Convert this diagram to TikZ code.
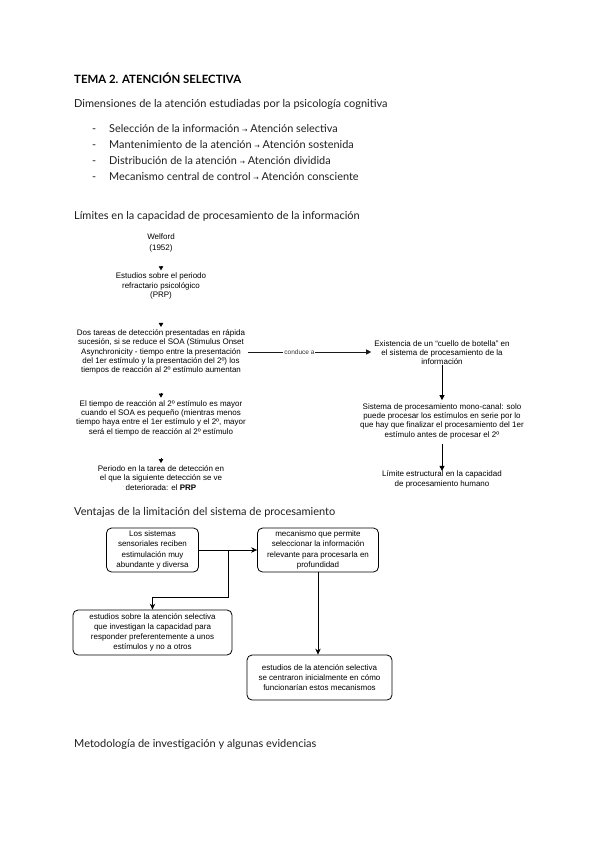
\documentclass[tikz,border=0pt]{standalone}
\usepackage{fontspec}
\setmainfont{Lato}
\newfontfamily\diag{Liberation Sans}
\newfontfamily\symfont{DejaVu Sans}
\usetikzlibrary{arrows.meta,calc}
\definecolor{txt}{gray}{0.12}
\definecolor{lin}{gray}{0.1}
\tikzset{
  head/.style={anchor=base west,inner sep=0pt,text=txt,font=\fontsize{11}{13}\selectfont},
  bul/.style={anchor=base west,inner sep=0pt,text=txt,font=\fontsize{10.9}{13}\selectfont},
  ftxt/.style={align=center,inner sep=0pt,text=black,font=\diag\fontsize{8}{9.3}\selectfont},
  smallarr/.style={draw=black,line width=0.5pt,-{Triangle[width=4.5pt,length=4pt]}},
  longarr/.style={draw=black,line width=0.9pt,-{Triangle[width=5pt,length=5pt]}},
  box/.style={draw=black,line width=0.8pt,rounded corners=5pt,align=center,inner sep=1pt,
    font=\diag\fontsize{8}{10.2}\selectfont},
  barr/.style={draw=black,line width=0.8pt,-{Stealth[width=5.5pt,length=6pt]}},
  bline/.style={draw=black,line width=0.8pt}
}
\newcommand{\rarr}{{\symfont\fontsize{6.5}{8}\selectfont →}}
\begin{document}
\begin{tikzpicture}[x=1pt,y=-1pt]
\useasboundingbox (0,0) rectangle (599,848);
\fill[white] (0,0) rectangle (599,848);

% headings
\node[anchor=base west,inner sep=0pt,text=black,font=\bfseries\fontsize{11.4}{14}\selectfont] (title) at (74,84) {TEMA 2. ATENCIÓN SELECTIVA};
\node[head] (dims) at (74,108) {Dimensiones de la atención estudiadas por la psicología cognitiva};
\node[bul] (d1) at (92,132) {-};
\node[bul] (d2) at (92,148) {-};
\node[bul] (d3) at (92,164) {-};
\node[bul] (d4) at (92,180) {-};
\node[bul] (b1) at (109,132) {Selección de la información \rarr{} Atención selectiva};
\node[bul] (b2) at (109,148) {Mantenimiento de la atención \rarr{} Atención sostenida};
\node[bul] (b3) at (109,164) {Distribución de la atención \rarr{} Atención dividida};
\node[bul] (b4) at (109,180) {Mecanismo central de control \rarr{} Atención consciente};
\node[head] (lim) at (74,219) {Límites en la capacidad de procesamiento de la información};

% flow left column
\node[ftxt,font=\diag\fontsize{8}{10.5}\selectfont] (welford) at (161,243) {Welford\\(1952)};
\node[ftxt] (estudios) at (161,286) {Estudios sobre el periodo\\refractario psicológico\\(PRP)};
\node[ftxt] (dos) at (161,352) {Dos tareas de detección presentadas en rápida\\sucesión, si se reduce el SOA (Stimulus Onset\\Asynchronicity - tiempo entre la presentación\\del 1er estímulo y la presentación del 2º) los\\tiempos de reacción al 2º estímulo aumentan};
\node[ftxt] (tiempo) at (161,418) {El tiempo de reacción al 2º estímulo es mayor\\cuando el SOA es pequeño (mientras menos\\tiempo haya entre el 1er estímulo y el 2º, mayor\\será el tiempo de reacción al 2º estímulo};
\node[ftxt] (periodo) at (161,478) {Periodo en la tarea de detección en\\el que la siguiente detección se ve\\deteriorada: el \textbf{PRP}};

\draw[smallarr,shorten <=15pt,shorten >=2.5pt] (welford.south) -- (estudios.north);
\draw[smallarr,shorten <=24pt,shorten >=2.5pt] (estudios.south) -- (dos.north);
\draw[smallarr,shorten <=18pt,shorten >=2.5pt] (dos.south) -- (tiempo.north);
\draw[smallarr,shorten <=22pt,shorten >=2.5pt] (tiempo.south) -- (periodo.north);

% right column
\node[ftxt] (exist) at (442,352.5) {Existencia de un “cuello de botella” en\\el sistema de procesamiento de la\\información};
\node[ftxt] (sistema) at (442,421) {Sistema de procesamiento mono-canal: solo\\puede procesar los estímulos en serie por lo\\que hay que finalizar el procesamiento del 1er\\estímulo antes de procesar el 2º};
\node[ftxt] (limite) at (442,479.5) {Límite estructural en la capacidad\\de procesamiento humano};

\draw[longarr,line width=0.6pt,draw=lin,shorten <=3pt,shorten >=3pt] (dos.east) -- node[pos=0.42,fill=white,inner sep=1pt,font=\diag\fontsize{6.5}{7}\selectfont,text=black!80] (conduce) {conduce a} (dos.east -| exist.west);
\draw[longarr] (exist.south) -- ([yshift=3pt]sistema.north);
\draw[longarr,shorten <=5pt] (sistema.south) -- (limite.north);

% ventajas
\node[head] (ventajas) at (74,515) {Ventajas de la limitación del sistema de procesamiento};

\node[box,minimum width=92pt,minimum height=44pt] (A) at (152.5,550) {Los sistemas\\sensoriales reciben\\estimulación muy\\abundante y diversa};
\node[box,minimum width=121pt,minimum height=44pt] (B) at (318,550) {mecanismo que permite\\seleccionar la información\\relevante para procesarla en\\profundidad};
\node[box,minimum width=159pt,minimum height=45pt] (C) at (152.5,632.5) {estudios sobre la atención selectiva\\que investigan la capacidad para\\responder preferentemente a unos\\estímulos y no a otros};
\node[box,minimum width=145pt,minimum height=45pt] (D) at (319.5,677.5) {estudios de la atención selectiva\\se centraron inicialmente en cómo\\funcionarían estos mecanismos};

\draw[barr] (A.east) -- (B.west);
\coordinate (br) at (228,550);
\coordinate (knee) at (228,597);
\draw[barr] (br) -- (knee) -| (C.north);
\draw[barr] (B.south) -- (B.south |- D.north);

\node[head] (metod) at (74,747) {Metodología de investigación y algunas evidencias};
\end{tikzpicture}
\end{document}
